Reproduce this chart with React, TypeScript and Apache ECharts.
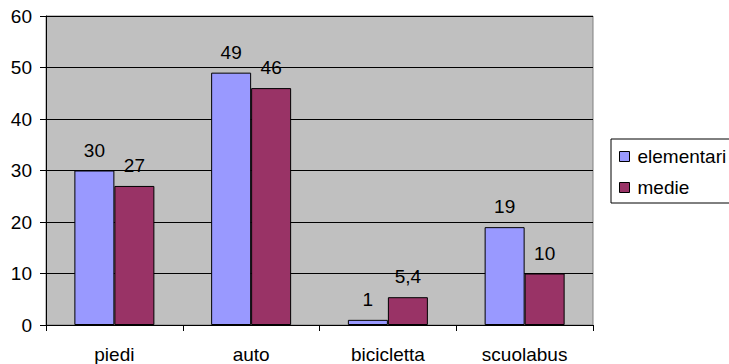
import React, { useEffect, useRef } from "react";
import * as echarts from "echarts";

const categories = ["piedi", "auto", "bicicletta", "scuolabus"];
const seriesNames = ["elementari", "medie"];
const elementari = [30, 49, 1, 19];
const medie = [27, 46, 5.4, 10];
const yTicks = { min: 0, max: 60, interval: 10 };

const FONT = "'Liberation Sans', Arial, sans-serif";
const FS = 19;

export default function App() {
  const ref = useRef<HTMLDivElement>(null);
  useEffect(() => {
    document.body.style.margin = "0";
    const chart = echarts.init(ref.current!, null, { renderer: "svg" });
    const label = {
      show: true,
      position: "top" as const,
      distance: 11,
      color: "#000",
      fontSize: FS,
      fontFamily: FONT,
      formatter: (p: any) => String(p.value).replace(".", ","),
    };
    chart.setOption({
      animation: false,
      textStyle: { fontFamily: FONT, color: "#000" },
      grid: {
        left: 46,
        right: 136,
        top: 16,
        bottom: 38,
        show: true,
        backgroundColor: "#c0c0c0",
        borderColor: "#808080",
        borderWidth: 1,
      },
      legend: {
        orient: "vertical",
        left: 611,
        top: 139,
        padding: [8, 60, 6, 8],
        itemWidth: 10,
        itemHeight: 10,
        itemGap: 12,
        backgroundColor: "#fff",
        borderColor: "#000",
        borderWidth: 1,
        borderRadius: 0,
        icon: "rect",
        itemStyle: { borderColor: "#000", borderWidth: 1 },
        textStyle: { fontSize: FS, fontFamily: FONT, color: "#000", padding: [0, 0, 0, 3] },
        data: seriesNames,
      },
      xAxis: {
        type: "category",
        data: categories,
        axisLine: { lineStyle: { color: "#000", width: 1 } },
        axisTick: { show: true, length: 6, alignWithLabel: false, lineStyle: { color: "#000" } },
        axisLabel: { color: "#000", fontSize: FS, fontFamily: FONT, margin: 20 },
      },
      yAxis: {
        type: "value",
        min: yTicks.min,
        max: yTicks.max,
        interval: yTicks.interval,
        axisLine: { show: true, lineStyle: { color: "#000", width: 1 } },
        axisTick: { show: true, length: 6, lineStyle: { color: "#000" } },
        axisLabel: { color: "#000", fontSize: FS, fontFamily: FONT, margin: 14 },
        splitLine: { show: true, lineStyle: { color: "#000", width: 1 } },
      },
      series: [
        {
          name: seriesNames[0],
          type: "bar",
          data: elementari,
          barWidth: 40,
          barGap: "0%",
          itemStyle: { color: "#9999ff", borderColor: "#000", borderWidth: 1 },
          label,
        },
        {
          name: seriesNames[1],
          type: "bar",
          data: medie,
          barWidth: 40,
          barGap: "0%",
          itemStyle: { color: "#993366", borderColor: "#000", borderWidth: 1 },
          label,
        },
      ],
    });
    return () => chart.dispose();
  }, []);
  return (
    <div
      ref={ref}
      style={{ position: "absolute", left: 0, top: 0, width: 729, height: 364 }}
    />
  );
}
